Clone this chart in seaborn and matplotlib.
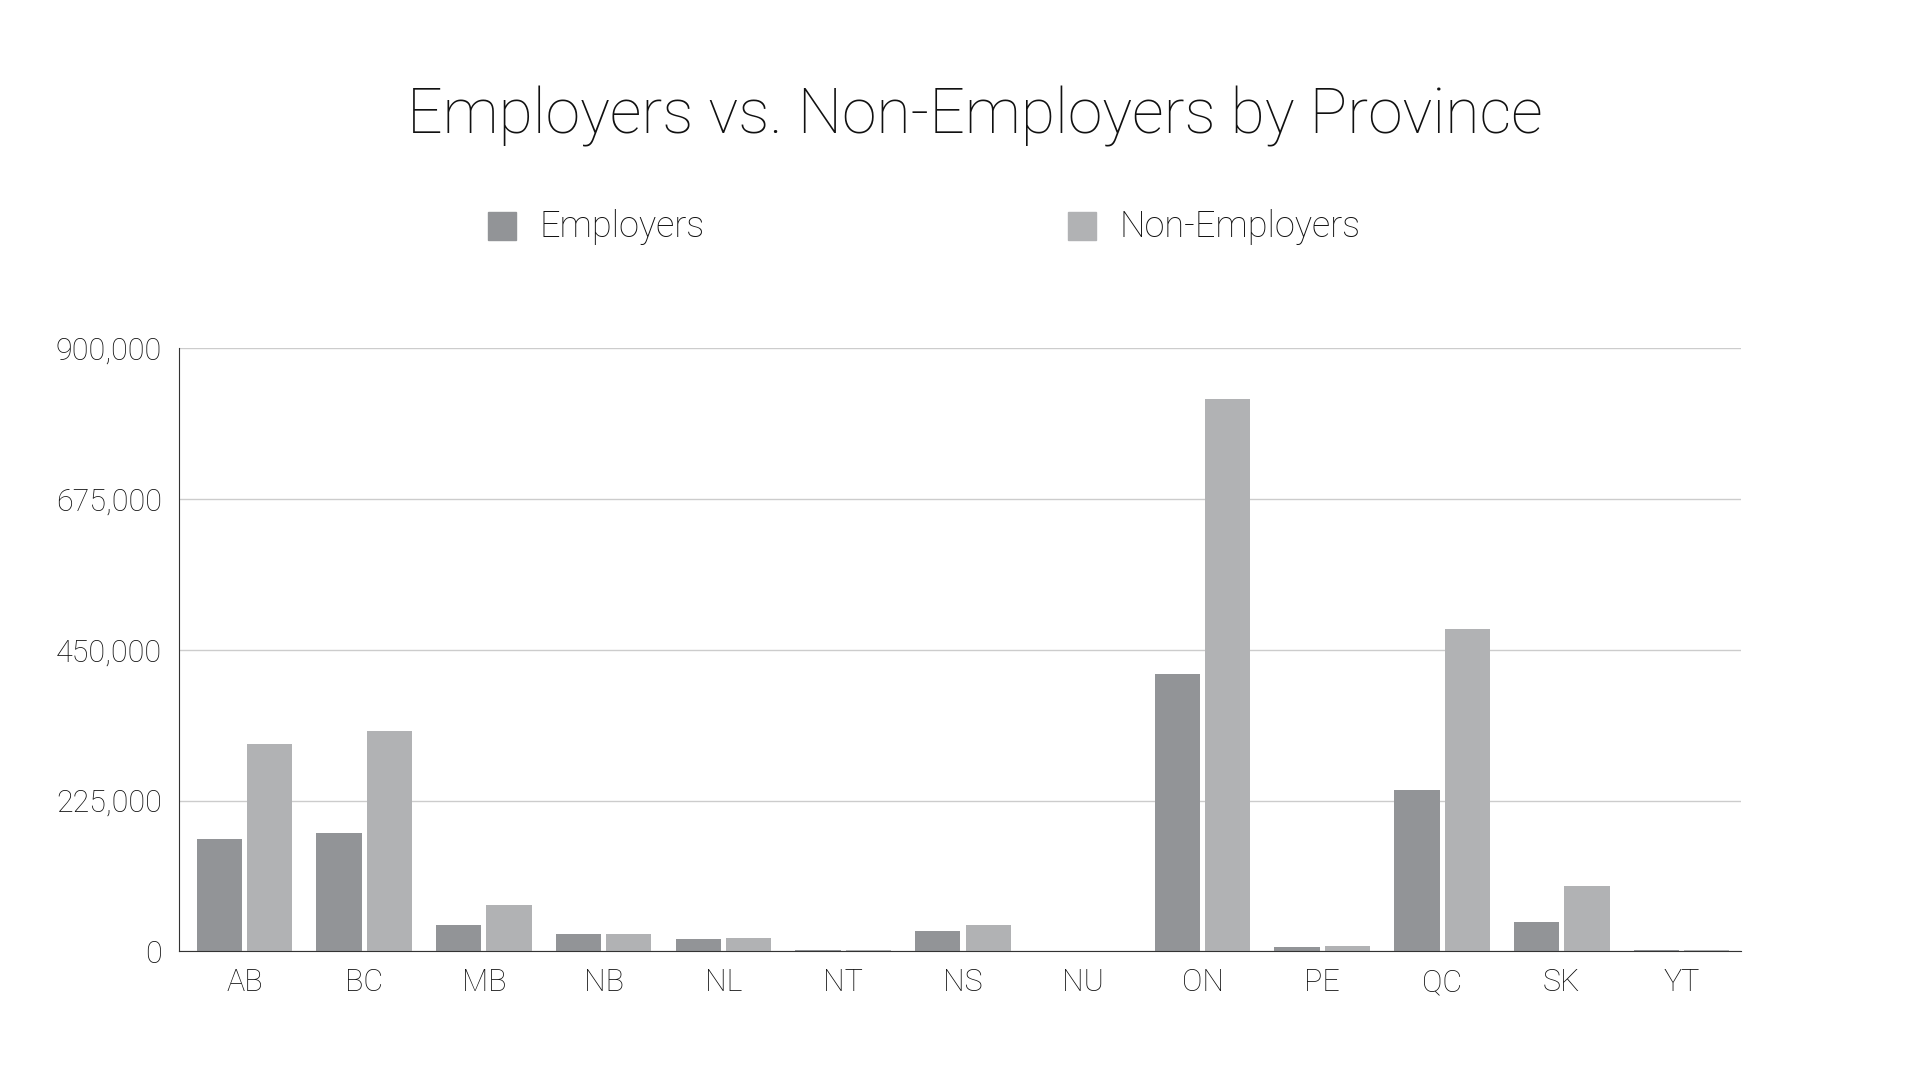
import matplotlib
matplotlib.use("Agg")
import matplotlib.pyplot as plt
import seaborn as sns
import pandas as pd
from matplotlib.ticker import FuncFormatter

provinces = ["AB", "BC", "MB", "NB", "NL", "NT", "NS", "NU", "ON", "PE", "QC", "SK", "YT"]
employers = [168000, 177000, 40000, 26000, 18000, 2000, 31000, 500, 413000, 7000, 241000, 44000, 2000]
non_employers = [309000, 329000, 70000, 26000, 20000, 2000, 40000, 500, 823000, 8000, 481000, 97000, 2000]
yticks = [0, 225000, 450000, 675000, 900000]

df = pd.DataFrame({"Province": provinces * 2,
                   "Count": employers + non_employers,
                   "Type": ["Employers"] * 13 + ["Non-Employers"] * 13})

plt.rcParams["font.family"] = "Roboto"
plt.rcParams["font.weight"] = "light"
fig = plt.figure(figsize=(19.2, 10.8), dpi=100)
ax = fig.add_axes([0.093, 0.119, 0.814, 0.559])
sns.barplot(data=df, x="Province", y="Count", hue="Type", ax=ax,
            palette=["#929497", "#b1b2b4"], saturation=1, width=0.84, gap=0.1,
            legend=False)
ax.set_ylim(0, 900000)
ax.set_yticks(yticks)
ax.yaxis.set_major_formatter(FuncFormatter(lambda v, p: f"{int(v):,}"))
ax.grid(axis="y", color="#cccccc", linewidth=1)
ax.set_axisbelow(True)
for s in ["top", "right"]:
    ax.spines[s].set_visible(False)
ax.spines["left"].set_color("#333333")
ax.spines["bottom"].set_color("#333333")
ax.tick_params(length=0, labelsize=22, pad=12, labelcolor="#111111")
ax.set_xlabel("")
ax.set_ylabel("")
ax.set_xlim(-0.55, 12.5)

fig.text(0.508, 0.892, "Employers vs. Non-Employers by Province", ha="center", va="center",
         fontsize=45, fontweight="light", color="#111111")
for x, lab, c in [(0.254, "Employers", "#929497"), (0.556, "Non-Employers", "#b1b2b4")]:
    fig.patches.append(plt.Rectangle((x, 0.778), 0.015, 0.026, color=c, transform=fig.transFigure))
    fig.text(x + 0.027, 0.79, lab, va="center", fontsize=26, fontweight="light", color="#111111")

fig.savefig("out.png")
